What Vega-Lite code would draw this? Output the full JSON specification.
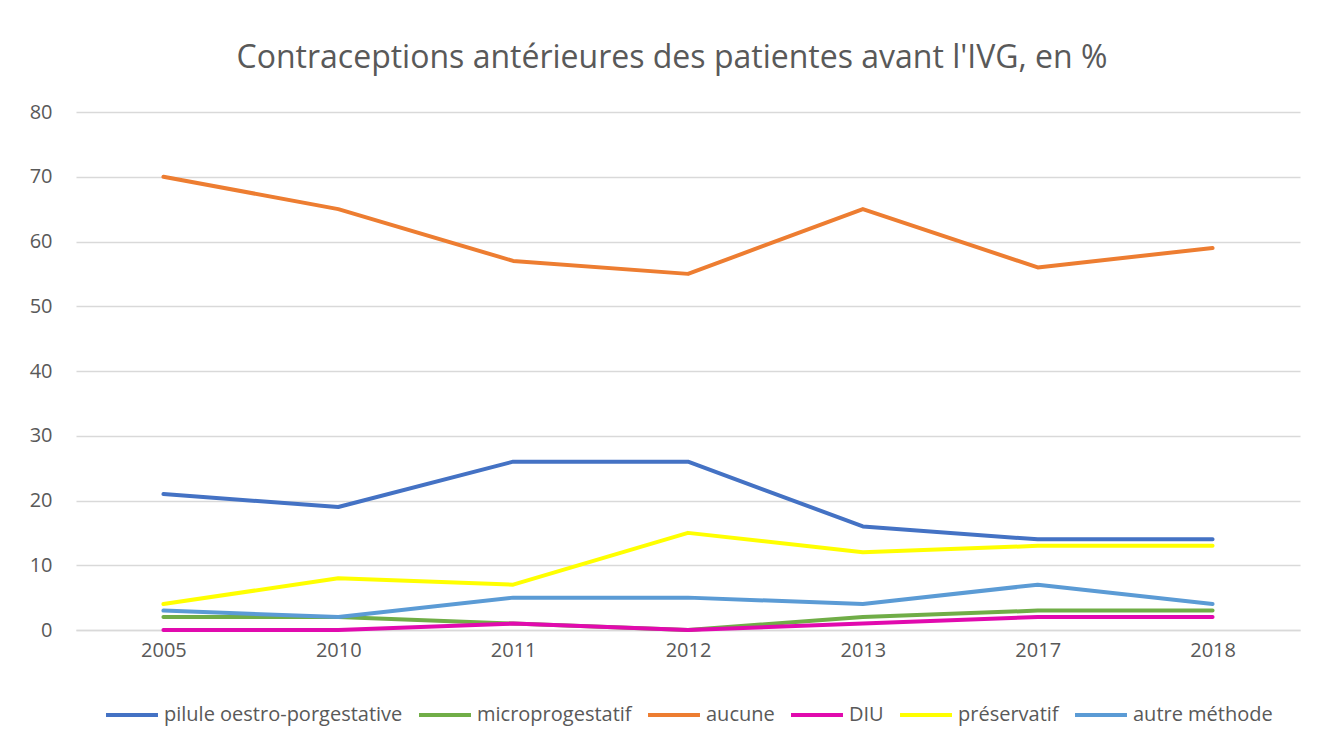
{
  "$schema": "https://vega.github.io/schema/vega-lite/v6.json",
  "width": 1224,
  "height": 518,
  "autosize": {"type": "none"},
  "padding": {"left": 76, "top": 112, "right": 19, "bottom": 98},
  "background": "white",
  "title": {
    "text": "Contraceptions antérieures des patientes avant l'IVG, en %",
    "fontSize": 32,
    "font": "Open Sans",
    "fontWeight": "normal",
    "color": "#595959",
    "anchor": "middle",
    "dx": -16,
    "offset": 27
  },
  "data": {
    "values": [
      {"annee": "2005", "methode": "pilule oestro-porgestative", "valeur": 21},
      {"annee": "2010", "methode": "pilule oestro-porgestative", "valeur": 19},
      {"annee": "2011", "methode": "pilule oestro-porgestative", "valeur": 26},
      {"annee": "2012", "methode": "pilule oestro-porgestative", "valeur": 26},
      {"annee": "2013", "methode": "pilule oestro-porgestative", "valeur": 16},
      {"annee": "2017", "methode": "pilule oestro-porgestative", "valeur": 14},
      {"annee": "2018", "methode": "pilule oestro-porgestative", "valeur": 14},
      {"annee": "2005", "methode": "microprogestatif", "valeur": 2},
      {"annee": "2010", "methode": "microprogestatif", "valeur": 2},
      {"annee": "2011", "methode": "microprogestatif", "valeur": 1},
      {"annee": "2012", "methode": "microprogestatif", "valeur": 0},
      {"annee": "2013", "methode": "microprogestatif", "valeur": 2},
      {"annee": "2017", "methode": "microprogestatif", "valeur": 3},
      {"annee": "2018", "methode": "microprogestatif", "valeur": 3},
      {"annee": "2005", "methode": "aucune", "valeur": 70},
      {"annee": "2010", "methode": "aucune", "valeur": 65},
      {"annee": "2011", "methode": "aucune", "valeur": 57},
      {"annee": "2012", "methode": "aucune", "valeur": 55},
      {"annee": "2013", "methode": "aucune", "valeur": 65},
      {"annee": "2017", "methode": "aucune", "valeur": 56},
      {"annee": "2018", "methode": "aucune", "valeur": 59},
      {"annee": "2005", "methode": "DIU", "valeur": 0},
      {"annee": "2010", "methode": "DIU", "valeur": 0},
      {"annee": "2011", "methode": "DIU", "valeur": 1},
      {"annee": "2012", "methode": "DIU", "valeur": 0},
      {"annee": "2013", "methode": "DIU", "valeur": 1},
      {"annee": "2017", "methode": "DIU", "valeur": 2},
      {"annee": "2018", "methode": "DIU", "valeur": 2},
      {"annee": "2005", "methode": "préservatif", "valeur": 4},
      {"annee": "2010", "methode": "préservatif", "valeur": 8},
      {"annee": "2011", "methode": "préservatif", "valeur": 7},
      {"annee": "2012", "methode": "préservatif", "valeur": 15},
      {"annee": "2013", "methode": "préservatif", "valeur": 12},
      {"annee": "2017", "methode": "préservatif", "valeur": 13},
      {"annee": "2018", "methode": "préservatif", "valeur": 13},
      {"annee": "2005", "methode": "autre méthode", "valeur": 3},
      {"annee": "2010", "methode": "autre méthode", "valeur": 2},
      {"annee": "2011", "methode": "autre méthode", "valeur": 5},
      {"annee": "2012", "methode": "autre méthode", "valeur": 5},
      {"annee": "2013", "methode": "autre méthode", "valeur": 4},
      {"annee": "2017", "methode": "autre méthode", "valeur": 7},
      {"annee": "2018", "methode": "autre méthode", "valeur": 4}
    ]
  },
  "mark": {"type": "line", "strokeWidth": 4, "strokeCap": "round", "strokeJoin": "round"},
  "encoding": {
    "x": {
      "field": "annee",
      "type": "ordinal",
      "scale": {"type": "point", "padding": 0.5},
      "axis": {
        "title": null,
        "labelAngle": 0,
        "ticks": false,
        "domain": true,
        "domainColor": "#d9d9d9",
        "domainWidth": 1.5,
        "labelFontSize": 20,
        "labelColor": "#595959",
        "labelFont": "Open Sans",
        "labelPadding": 10,
        "grid": false
      }
    },
    "y": {
      "field": "valeur",
      "type": "quantitative",
      "scale": {"domain": [0, 80]},
      "axis": {
        "title": null,
        "values": [0, 10, 20, 30, 40, 50, 60, 70, 80],
        "ticks": false,
        "domain": false,
        "gridColor": "#d9d9d9",
        "gridWidth": 1.3,
        "labelFontSize": 20,
        "labelColor": "#595959",
        "labelFont": "Open Sans",
        "labelPadding": 24
      }
    },
    "color": {
      "field": "methode",
      "type": "nominal",
      "scale": {
        "domain": ["pilule oestro-porgestative", "microprogestatif", "aucune", "DIU", "préservatif", "autre méthode"],
        "range": ["#4472C4", "#70AD47", "#ED7D31", "#E10AAE", "#FFFF00", "#5B9BD5"]
      },
      "legend": {
        "title": null,
        "orient": "bottom",
        "direction": "horizontal",
        "symbolType": "stroke",
        "symbolSize": 2700,
        "symbolStrokeWidth": 4,
        "labelFontSize": 20,
        "labelLimit": 0,
        "labelColor": "#595959",
        "labelFont": "Open Sans",
        "offset": 27,
        "columnPadding": 8,
        "labelOffset": 4
      }
    }
  },
  "config": {
    "view": {"stroke": null},
    "legend": {"layout": {"bottom": {"anchor": "middle"}}}
  }
}
